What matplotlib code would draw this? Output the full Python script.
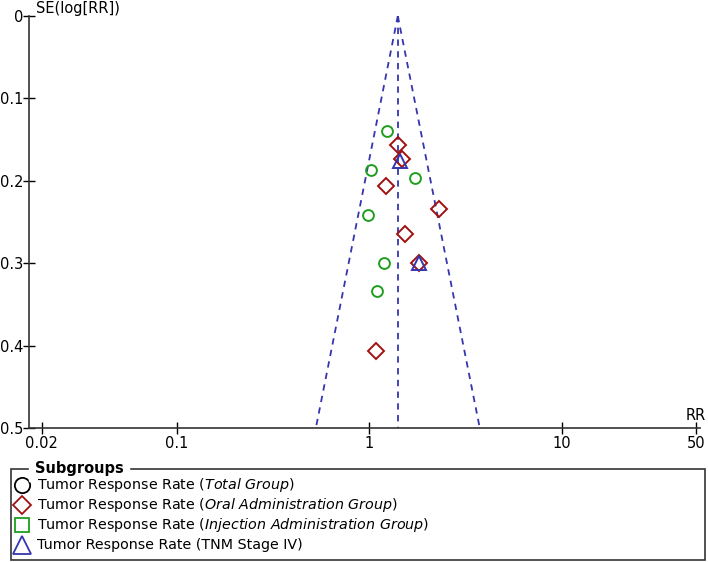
import numpy as np
import matplotlib.pyplot as plt
from matplotlib.lines import Line2D
from matplotlib.patches import Rectangle

# pooled estimate of the funnel
pooled_rr = 1.41
se_max = 0.5

# Injection Administration Group (green)
inj_rr = [1.235, 1.024, 1.73, 0.99, 1.20, 1.10]
inj_se = [0.140, 0.187, 0.197, 0.241, 0.300, 0.334]

# Oral Administration Group (red)
oral_rr = [1.408, 1.48, 1.22, 2.31, 1.537, 1.816, 1.083]
oral_se = [0.157, 0.174, 0.206, 0.2346, 0.264, 0.300, 0.406]

# TNM Stage IV (blue)
tnm_rr = [1.447, 1.816]
tnm_se = [0.1765, 0.300]

x_ticks = [0.02, 0.1, 1, 10, 50]
x_ticklabels = ['0.02', '0.1', '1', '10', '50']
y_ticks = [0, 0.1, 0.2, 0.3, 0.4, 0.5]
y_ticklabels = ['0', '0.1', '0.2', '0.3', '0.4', '0.5']

legend_labels = [r'Tumor Response Rate ($\mathit{Total\ Group}$)',
                 r'Tumor Response Rate ($\mathit{Oral\ Administration\ Group}$)',
                 r'Tumor Response Rate ($\mathit{Injection\ Administration\ Group}$)',
                 'Tumor Response Rate (TNM Stage IV)']

plt.rcParams['mathtext.fontset'] = 'dejavusans'
plt.rcParams['font.family'] = 'DejaVu Sans'

W, H = 708, 562
fig = plt.figure(figsize=(W / 100, H / 100), dpi=100)
ax = fig.add_axes([29.3 / W, 1 - 428 / H, (700 - 29.3) / W, (428 - 16) / H])

blue = '#3535b0'
red = '#a01010'
green = '#1e9e1e'

# funnel lines
se = np.array([0, se_max])
lo = np.exp(np.log(pooled_rr) - 1.96 * se)
hi = np.exp(np.log(pooled_rr) + 1.96 * se)
for xs in [lo, hi, [pooled_rr, pooled_rr]]:
    ax.plot(xs, se, '--', color=blue, lw=1.3, dashes=(3.5, 3))

ax.plot(inj_rr, inj_se, 'o', ms=7.8, mfc='none', mec=green, mew=1.4)
ax.plot(oral_rr, oral_se, 'D', ms=7.8, mfc='none', mec=red, mew=1.4)
ax.plot(tnm_rr, tnm_se, '^', ms=9.5, mfc='none', mec=blue, mew=1.4)

ax.set_xscale('log')
ax.set_xlim(0.0172, 52.3)
ax.set_ylim(0.5, 0)
ax.set_xticks(x_ticks)
ax.set_xticklabels(x_ticklabels)
ax.set_yticks(y_ticks)
ax.set_yticklabels(y_ticklabels)
ax.minorticks_off()
ax.tick_params(axis='both', direction='inout', length=9, width=1, labelsize=10.5, pad=0)
ax.tick_params(axis='x', pad=1)
for s in ['top', 'right']:
    ax.spines[s].set_visible(False)
for s in ['left', 'bottom']:
    ax.spines[s].set_color('#333333')
    ax.spines[s].set_linewidth(1.2)

fig.text(36 / W, 1 - 8 / H, 'SE(log[RR])', fontsize=10.5, ha='left', va='center')
fig.text(696 / W, 1 - 416 / H, 'RR', fontsize=10.5, ha='center', va='center')

# legend box drawn by hand
box = Rectangle((11 / W, 1 - 560 / H), (705 - 11) / W, (560 - 469) / H,
                transform=fig.transFigure, fill=False, ec='#333333', lw=1.2)
fig.add_artist(box)
fig.text(35 / W, 1 - 468 / H, 'Subgroups', fontsize=10.5, fontweight='bold',
         ha='left', va='center', backgroundcolor='white')
leg_markers = [('o', 'black', 11), ('D', red, 9), ('s', green, 9.5), ('^', blue, 12.5)]
leg_y = [485, 505, 525, 545]
for (m, c, size), yy, lab in zip(leg_markers, leg_y, legend_labels):
    fig.add_artist(Line2D([21.7 / W], [1 - yy / H], marker=m, ms=size, mfc='none',
                          mec=c, mew=1.3, transform=fig.transFigure))
    fig.text(37 / W, 1 - yy / H, lab, fontsize=10.3, ha='left', va='center')

fig.savefig('out.png', dpi=100)
